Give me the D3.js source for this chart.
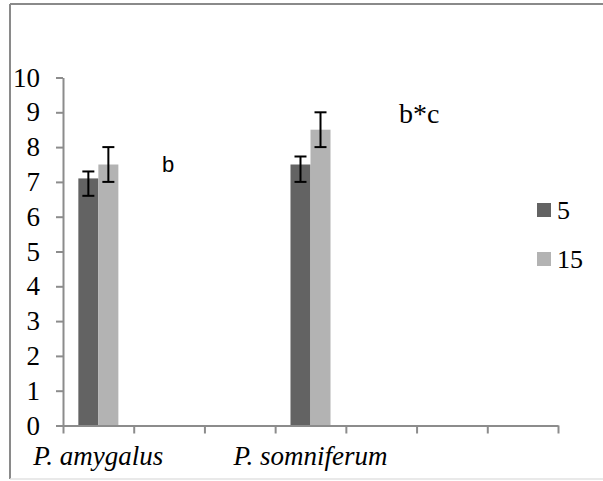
<!DOCTYPE html>
<html>
<head>
<meta charset="utf-8">
<script src="https://cdn.jsdelivr.net/npm/d3@7"></script>
</head>
<body style="margin:0">
<svg id="chart" width="603" height="481" style="font-family: 'Liberation Serif'"></svg>
<script>
// x axis has 7 category slots, only two of them carry data
const slotLabels = ['P. amygalus', '', '', 'P. somniferum', '', '', ''];
const series = ['5', '15'];
const values5 = [7.1, null, null, 7.5, null, null, null];
const values15 = [7.5, null, null, 8.5, null, null, null];
const errLow5 = [6.6, null, null, 7.0, null, null, null];
const errHigh5 = [7.3, null, null, 7.73, null, null, null];
const errLow15 = [7.0, null, null, 8.0, null, null, null];
const errHigh15 = [8.0, null, null, 9.0, null, null, null];
const yTicks = [0, 1, 2, 3, 4, 5, 6, 7, 8, 9, 10];
const notes = [
    { text: 'b', slot: 1.4, value: 7.28, font: 'Liberation Sans', size: 22 },
    { text: 'b*c', slot: 4.75, value: 8.7, font: 'Liberation Serif', size: 28 },
];

const colors = { '5': '#636363', '15': '#b3b3b3' };
const axisColor = '#8c8c8c';
const serif = 'Liberation Serif';

const svg = d3.select('#chart');

// outer frame
svg.append('line').attr('x1', 10).attr('x2', 603).attr('y1', 4).attr('y2', 4)
    .attr('stroke', '#8a8a8a').attr('stroke-width', 2);
svg.append('line').attr('x1', 10).attr('x2', 10).attr('y1', 4).attr('y2', 479)
    .attr('stroke', '#8a8a8a').attr('stroke-width', 2);
svg.append('line').attr('x1', 10).attr('x2', 603).attr('y1', 479).attr('y2', 479)
    .attr('stroke', '#e2e2e2').attr('stroke-width', 1.5);

const plotLeft = 63, plotRight = 558, plotTop = 77.5, plotBottom = 425.5;

const x = d3.scaleBand().domain(d3.range(slotLabels.length)).range([plotLeft, plotRight]);
const xEdge = d3.scaleLinear().domain([0, slotLabels.length]).range([plotLeft, plotRight]);
const bw = x.bandwidth();
const x1 = d3.scaleBand().domain(series).range([bw * 0.217, bw * 0.783]);
const y = d3.scaleLinear().domain([0, 10]).range([plotBottom, plotTop]);

const rows = [];
slotLabels.forEach((lab, i) => {
    if (values5[i] != null) rows.push({ slot: i, s: '5', v: values5[i], lo: errLow5[i], hi: errHigh5[i] });
    if (values15[i] != null) rows.push({ slot: i, s: '15', v: values15[i], lo: errLow15[i], hi: errHigh15[i] });
});

// bars
svg.append('g').selectAll('rect')
    .data(rows)
    .join('rect')
    .attr('x', d => x(d.slot) + x1(d.s))
    .attr('y', d => y(d.v))
    .attr('width', x1.bandwidth())
    .attr('height', d => y(0) - y(d.v))
    .attr('fill', d => colors[d.s]);

// y axis
const yAxis = svg.append('g')
    .attr('transform', `translate(${plotLeft},0)`)
    .call(d3.axisLeft(y).tickValues(yTicks).tickSize(7).tickSizeOuter(0).tickPadding(16));
yAxis.attr('font-family', serif).attr('font-size', 27);
yAxis.select('.domain').attr('stroke', axisColor).attr('stroke-width', 2);
yAxis.selectAll('.tick line').attr('stroke', axisColor).attr('stroke-width', 2);
yAxis.selectAll('.tick text').attr('fill', '#000');

// x axis: ticks at slot edges, labels at slot centres
const xAxis = svg.append('g')
    .attr('transform', `translate(0,${plotBottom})`)
    .call(d3.axisBottom(xEdge).tickValues(d3.range(slotLabels.length + 1))
        .tickSize(8).tickSizeOuter(0).tickFormat(''));
xAxis.select('.domain').attr('stroke', axisColor).attr('stroke-width', 2);
xAxis.selectAll('.tick line').attr('stroke', axisColor).attr('stroke-width', 2);

svg.append('g').selectAll('text')
    .data(slotLabels)
    .join('text')
    .attr('x', (d, i) => x(i) + bw / 2)
    .attr('y', 465)
    .attr('text-anchor', 'middle')
    .attr('font-family', serif)
    .attr('font-style', 'italic')
    .attr('font-size', 27)
    .text(d => d);

// error bars
const cap = 6;
const eb = svg.append('g').attr('stroke', '#000').attr('stroke-width', 2);
rows.forEach(d => {
    const cx = x(d.slot) + x1(d.s) + x1.bandwidth() / 2;
    eb.append('line').attr('x1', cx).attr('x2', cx).attr('y1', y(d.lo)).attr('y2', y(d.hi));
    eb.append('line').attr('x1', cx - cap).attr('x2', cx + cap).attr('y1', y(d.lo)).attr('y2', y(d.lo));
    eb.append('line').attr('x1', cx - cap).attr('x2', cx + cap).attr('y1', y(d.hi)).attr('y2', y(d.hi));
});

// annotations
svg.append('g').selectAll('text')
    .data(notes)
    .join('text')
    .attr('x', d => xEdge(d.slot))
    .attr('y', d => y(d.value))
    .attr('font-family', d => d.font)
    .attr('font-size', d => d.size)
    .text(d => d.text);

// legend
const legend = svg.append('g').attr('transform', 'translate(537,203)');
series.forEach((s, i) => {
    const g = legend.append('g').attr('transform', `translate(0,${i * 49})`);
    g.append('rect').attr('width', 14).attr('height', 14).attr('fill', colors[s]);
    g.append('text').attr('x', 20).attr('y', 16)
        .attr('font-family', serif).attr('font-size', 26).text(s);
});
</script>
</body>
</html>
